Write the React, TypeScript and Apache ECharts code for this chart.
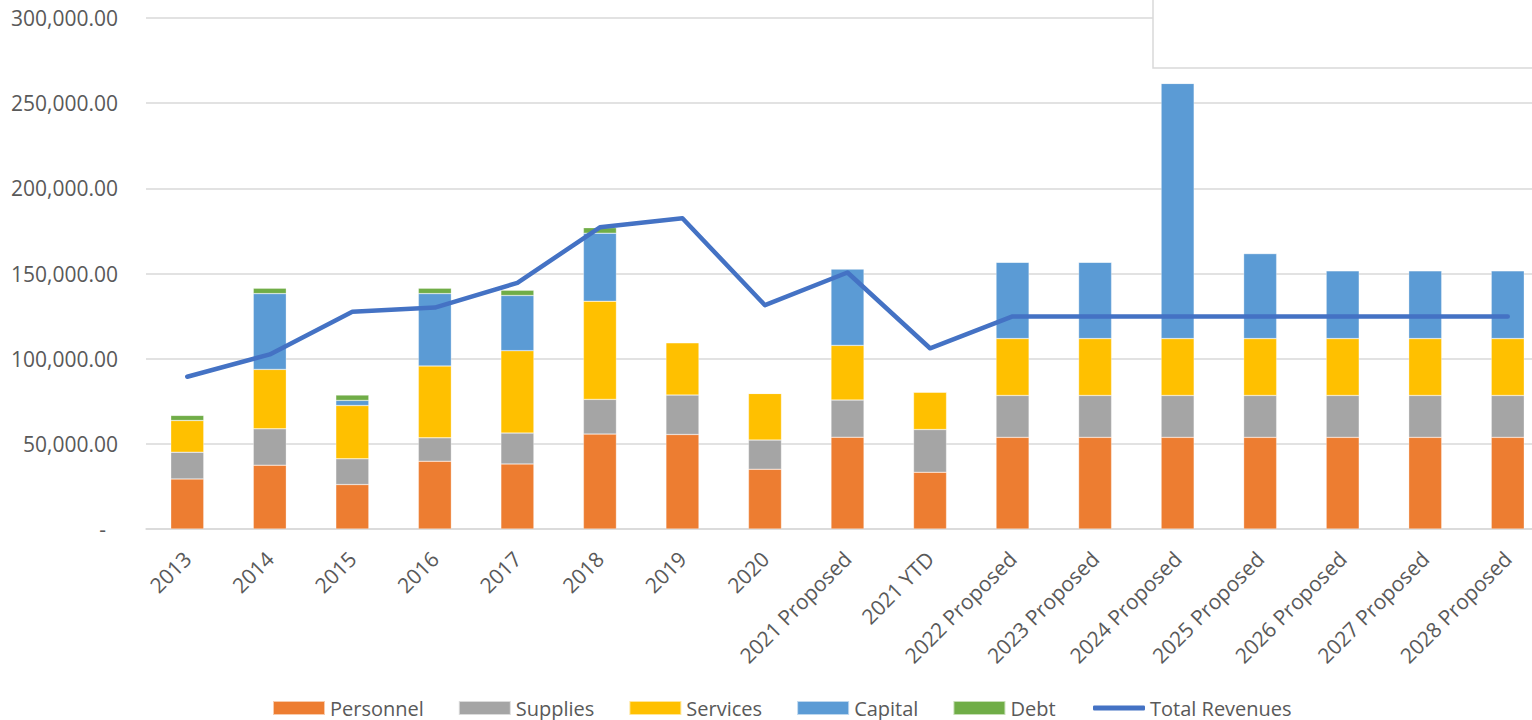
import React, { useEffect, useRef } from "react";
import * as echarts from "echarts";

const categories = [
  "2013", "2014", "2015", "2016", "2017", "2018", "2019", "2020",
  "2021 Proposed", "2021 YTD", "2022 Proposed", "2023 Proposed", "2024 Proposed",
  "2025 Proposed", "2026 Proposed", "2027 Proposed", "2028 Proposed",
];
const personnel = [29400, 37500, 26100, 39800, 38200, 55700, 55500, 35100, 53900, 33300, 53800, 53800, 53800, 53800, 53800, 53800, 53800];
const supplies = [15700, 21300, 15100, 13700, 18100, 20400, 23100, 17100, 21800, 25100, 24600, 24600, 24600, 24600, 24600, 24600, 24600];
const services = [18600, 34900, 31300, 42200, 48400, 57600, 30800, 27400, 32100, 22000, 33400, 33400, 33400, 33400, 33400, 33400, 33400];
const capital = [0, 44500, 3000, 42500, 32400, 40000, 0, 0, 44900, 0, 44800, 44800, 149800, 49900, 39800, 39800, 39800];
const debt = [3000, 3200, 3100, 3200, 3100, 3200, 0, 0, 0, 0, 0, 0, 0, 0, 0, 0, 0];
const totalRevenues = [89400, 102500, 127500, 130000, 144500, 177100, 182400, 131400, 150600, 106100, 124800, 124800, 124800, 124800, 124800, 124800, 124800];
const yTicks = { min: 0, max: 300000, interval: 50000 };

const FONT = "'Open Sans', 'Noto Sans', sans-serif";
const TEXT = "#595959";

export default function App() {
  const ref = useRef<HTMLDivElement>(null);
  useEffect(() => {
    if (!ref.current) return;
    const chart = echarts.init(ref.current, null, { renderer: "svg" });
    const barSeries = (name: string, data: number[], color: string) => ({
      name,
      type: "bar",
      stack: "total",
      data,
      barWidth: 33,
      itemStyle: { color, borderColor: "rgba(255,255,255,0.6)", borderWidth: 0.5 },
    });
    const legendText = { fontSize: 20, color: TEXT, fontFamily: FONT, lineHeight: 22 };
    chart.setOption({
      animation: false,
      textStyle: { fontFamily: FONT, color: TEXT },
      grid: { left: 146, top: 18, width: 1403, height: 511, containLabel: false },
      legend: [
        {
          top: 697,
          left: 272,
          padding: 0,
          itemWidth: 52,
          itemHeight: 14,
          itemGap: 34,
          textStyle: legendText,
          data: [
            { name: "Personnel", icon: "rect" },
            { name: "Supplies", icon: "rect" },
            { name: "Services", icon: "rect" },
            { name: "Capital", icon: "rect" },
            { name: "Debt", icon: "rect" },
          ],
        },
        {
          top: 697,
          left: 1093,
          padding: 0,
          itemWidth: 52,
          itemHeight: 5,
          textStyle: legendText,
          data: [{ name: "Total Revenues", icon: "roundRect", itemStyle: { color: "#4472C4" } }],
        },
      ],
      xAxis: {
        type: "category",
        data: categories,
        axisLine: { show: true, lineStyle: { color: "#d9d9d9", width: 1.5 } },
        axisTick: { show: false },
        axisLabel: { rotate: 45, fontSize: 21, color: TEXT, margin: 26, interval: 0, fontFamily: FONT },
      },
      yAxis: {
        type: "value",
        min: yTicks.min,
        max: yTicks.max,
        interval: yTicks.interval,
        axisLine: { show: false },
        axisTick: { show: false },
        splitLine: { lineStyle: { color: "#d9d9d9", width: 1.5 } },
        axisLabel: {
          fontSize: 21,
          color: TEXT,
          margin: 28,
          fontFamily: FONT,
          formatter: (v: number) =>
            v === 0
              ? "{d|-}"
              : v.toLocaleString("en-US", { minimumFractionDigits: 2, maximumFractionDigits: 2 }),
          rich: { d: { fontSize: 21, color: TEXT, padding: [0, 12, 0, 0], fontFamily: FONT } },
        },
      },
      series: [
        barSeries("Personnel", personnel, "#ED7D31"),
        barSeries("Supplies", supplies, "#A5A5A5"),
        barSeries("Services", services, "#FFC000"),
        barSeries("Capital", capital, "#5B9BD5"),
        barSeries("Debt", debt, "#70AD47"),
        {
          name: "Total Revenues",
          type: "line",
          data: totalRevenues,
          symbol: "none",
          z: 5,
          itemStyle: { color: "#4472C4" },
          lineStyle: { color: "#4472C4", width: 4.5, cap: "round", join: "round" },
        },
      ],
      graphic: [
        {
          type: "rect",
          z: 100,
          shape: { x: 1153, y: -10, width: 440, height: 78 },
          style: { fill: "#ffffff", stroke: "#d9d9d9", lineWidth: 1.5 },
        },
      ],
    });
    return () => chart.dispose();
  }, []);
  return (
    <div
      style={{ position: "fixed", left: 0, top: 0, width: 1532, height: 720, overflow: "hidden", background: "#fff" }}
    >
      <div ref={ref} style={{ width: 1560, height: 720 }} />
    </div>
  );
}
